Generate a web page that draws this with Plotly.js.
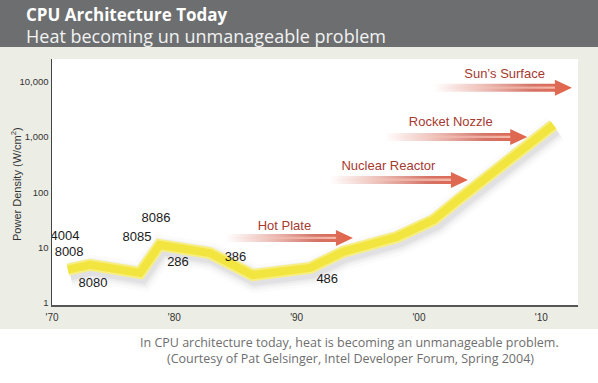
<!DOCTYPE html>
<html>
<head>
<meta charset="utf-8">
<script src="https://cdn.plot.ly/plotly-3.0.1.min.js"></script>
<style>
  html, body { margin: 0; padding: 0; }
  body {
    width: 598px; height: 383px; overflow: hidden;
    background: linear-gradient(to bottom, #6c6e70 0px, #6c6e70 47px, #ecede5 47px, #ecede5 329px, #ffffff 329px, #ffffff 383px);
  }
  #chart { width: 598px; height: 383px; }
</style>
</head>
<body>
<div id="chart"></div>
<script>
// ---- data ----
const years = [1971.3, 1973.1, 1977.2, 1978.8, 1982.9, 1986.4, 1991.1, 1993.8, 1998.2, 2001.2, 2003.2, 2011.0];
const powerDensity = [4.0, 4.9, 3.5, 11.2, 8.0, 3.2, 4.3, 8.4, 15.6, 31.7, 73, 1650];

const chipNames = ['4004', '8008', '8080', '8085', '8086', '286', '386', '486'];
const chipLabelYears = [1971.06, 1971.4, 1973.35, 1976.95, 1978.5, 1980.3, 1985.0, 1992.5];
const chipLabelValues = [15.6, 8.0, 2.2, 15.0, 33, 5.3, 6.5, 2.6];

const refNames = ['Hot Plate', 'Nuclear Reactor', 'Rocket Nozzle', 'Sun\u2019s Surface'];
const refLevels = [15, 168, 1000, 7730];
const refArrowFrom = [1984.2, 1992.7, 1997.2, 2001.2];
const refArrowTo = [1994.6, 2004.0, 2008.85, 2012.5];
const refLabelYears = [1989.0, 1997.5, 2002.6, 2007.0];
const refLabelValues = [23.7, 288, 1800, 13200];

const xTickVals = [1970, 1980, 1990, 2000, 2010];
const xTickText = ['\'70', '\'80', '\'90', '\'00', '\'10'];
const yTickVals = [1, 10, 100, 1000, 10000];
const yTickText = ['1', '10', '100', '1,000', '10,000'];

// ---- layout geometry ----
const M = { l: 52, r: 20, t: 59, b: 78 };
const FW = 598, FH = 383;
const PW = FW - M.l - M.r, PH = FH - M.t - M.b;
const xRange = [1970, 2013];
const yRange = [-0.036, 4.41];
const pxPerYear = PW / (xRange[1] - xRange[0]);
const pxPerDec = PH / (yRange[1] - yRange[0]);
const dxp = p => p / pxPerYear;
const dyp = p => p / pxPerDec;
const px2paperX = p => (p - M.l) / PW;
const px2paperY = p => 1 - (p - M.t) / PH;

const traces = [];

// reference arrows (gradient filled polygons)
refLevels.forEach((lev, i) => {
  const ly = Math.log10(lev);
  const tail = refArrowFrom[i], tip = refArrowTo[i];
  const hb = tip - dxp(17);
  const xs = [tail, hb, hb, tip, hb, hb, tail, tail];
  const ys = [ly + dyp(4), ly + dyp(4), ly + dyp(8), ly, ly - dyp(8), ly - dyp(4), ly - dyp(4), ly + dyp(4)].map(v => Math.pow(10, v));
  traces.push({
    x: xs, y: ys, type: 'scatter', mode: 'lines', fill: 'toself',
    line: { width: 0, color: 'rgba(0,0,0,0)' },
    fillgradient: { type: 'horizontal', colorscale: [
      [0, 'rgba(214,112,96,0)'], [0.3, 'rgba(210,104,88,0.35)'],
      [0.7, 'rgba(205,92,78,0.85)'], [1, 'rgba(228,100,72,1)']] },
    hoverinfo: 'skip', showlegend: false
  });
  const xs2 = [tail, hb, hb, tail, tail];
  const ys2 = [ly + dyp(1.3), ly + dyp(1.3), ly - dyp(1.0), ly - dyp(1.0), ly + dyp(1.3)].map(v => Math.pow(10, v));
  traces.push({
    x: xs2, y: ys2, type: 'scatter', mode: 'lines', fill: 'toself',
    line: { width: 0, color: 'rgba(0,0,0,0)' },
    fillgradient: { type: 'horizontal', colorscale: [
      [0, 'rgba(250,205,190,0)'], [0.5, 'rgba(250,200,185,0.45)'], [1, 'rgba(252,205,190,0.8)']] },
    hoverinfo: 'skip', showlegend: false
  });
});

// arrow labels
traces.push({
  x: refLabelYears, y: refLabelValues, text: refNames, type: 'scatter', mode: 'text',
  textposition: 'middle center',
  textfont: { family: 'Liberation Sans, Arial, sans-serif', size: 13, color: '#a63a30' },
  hoverinfo: 'skip', showlegend: false
});

// soft shadow of the main line (offset axes)
[[28, 0.025], [22, 0.035], [17, 0.05], [13, 0.06]].forEach(([w, a]) => {
  traces.push({
    x: years, y: powerDensity, xaxis: 'x2', yaxis: 'y2', type: 'scatter', mode: 'lines',
    line: { width: w, color: 'rgba(70,70,85,' + a + ')' }, hoverinfo: 'skip', showlegend: false
  });
});

// main yellow line
traces.push({
  x: years, y: powerDensity, xaxis: 'x3', yaxis: 'y3', type: 'scatter', mode: 'lines',
  line: { width: 12, color: '#f6ee82' }, hoverinfo: 'skip', showlegend: false
});
traces.push({
  x: years, y: powerDensity, xaxis: 'x3', yaxis: 'y3', type: 'scatter', mode: 'lines',
  line: { width: 8, color: '#f2e53f' }, name: 'Power density', showlegend: false
});

// chip labels
traces.push({
  x: chipLabelYears, y: chipLabelValues, text: chipNames, xaxis: 'x3', yaxis: 'y3',
  type: 'scatter', mode: 'text', textposition: 'middle center',
  textfont: { family: 'Liberation Sans, Arial, sans-serif', size: 13, color: '#1b1b1b' },
  hoverinfo: 'skip', showlegend: false
});

const hidden = { visible: false, showgrid: false, zeroline: false };
const layout = {
  width: FW, height: FH,
  margin: M,
  paper_bgcolor: 'rgba(0,0,0,0)',
  plot_bgcolor: '#ffffff',
  showlegend: false,
  xaxis: {
    range: xRange, tickvals: xTickVals, ticktext: xTickText, ticks: '',
    showgrid: false, zeroline: false, showline: true, linecolor: '#555', linewidth: 1.5,
    tickfont: { family: 'Liberation Sans, Arial, sans-serif', size: 10, color: '#333' },
    ticklabelstandoff: 2
  },
  yaxis: {
    type: 'log', range: yRange, tickvals: yTickVals, ticktext: yTickText, ticks: '',
    showgrid: false, zeroline: false, showline: true, linecolor: '#444', linewidth: 1.5,
    tickfont: { family: 'Liberation Sans, Arial, sans-serif', size: 9.5, color: '#333' }
  },
  xaxis2: Object.assign({ overlaying: 'x', range: [xRange[0] - dxp(2), xRange[1] - dxp(2)] }, hidden),
  yaxis2: Object.assign({ overlaying: 'y', type: 'log', range: [yRange[0] + dyp(4), yRange[1] + dyp(4)] }, hidden),
  xaxis3: Object.assign({ overlaying: 'x', range: xRange }, hidden),
  yaxis3: Object.assign({ overlaying: 'y', type: 'log', range: yRange }, hidden),
  annotations: [
    { text: '<b>CPU Architecture Today</b>', xref: 'paper', yref: 'paper',
      x: px2paperX(24), y: px2paperY(15), xanchor: 'left', yanchor: 'middle', showarrow: false,
      font: { family: 'Open Sans, sans-serif', size: 17, color: '#ffffff' } },
    { text: 'Heat becoming un unmanageable problem', xref: 'paper', yref: 'paper',
      x: px2paperX(24), y: px2paperY(36), xanchor: 'left', yanchor: 'middle', showarrow: false,
      font: { family: 'Open Sans, sans-serif', size: 18, color: '#f2f2f2' } },
    { text: 'Power Density (W/cm<sup>2</sup>)', xref: 'paper', yref: 'paper',
      x: px2paperX(16), y: px2paperY(184), xanchor: 'center', yanchor: 'middle', showarrow: false,
      textangle: -90,
      font: { family: 'Liberation Sans, Arial, sans-serif', size: 11, color: '#333' } },
    { text: 'In CPU architecture today, heat is becoming an unmanageable problem.', xref: 'paper', yref: 'paper',
      x: px2paperX(349), y: px2paperY(342), xanchor: 'center', yanchor: 'middle', showarrow: false,
      font: { family: 'Open Sans, sans-serif', size: 12.5, color: '#6e6e6e' } },
    { text: '(Courtesy of Pat Gelsinger, Intel Developer Forum, Spring 2004)', xref: 'paper', yref: 'paper',
      x: px2paperX(350), y: px2paperY(358), xanchor: 'center', yanchor: 'middle', showarrow: false,
      font: { family: 'Open Sans, sans-serif', size: 12.5, color: '#6e6e6e' } }
  ]
};

Plotly.newPlot('chart', traces, layout, { displayModeBar: false, staticPlot: true });
</script>
</body>
</html>
